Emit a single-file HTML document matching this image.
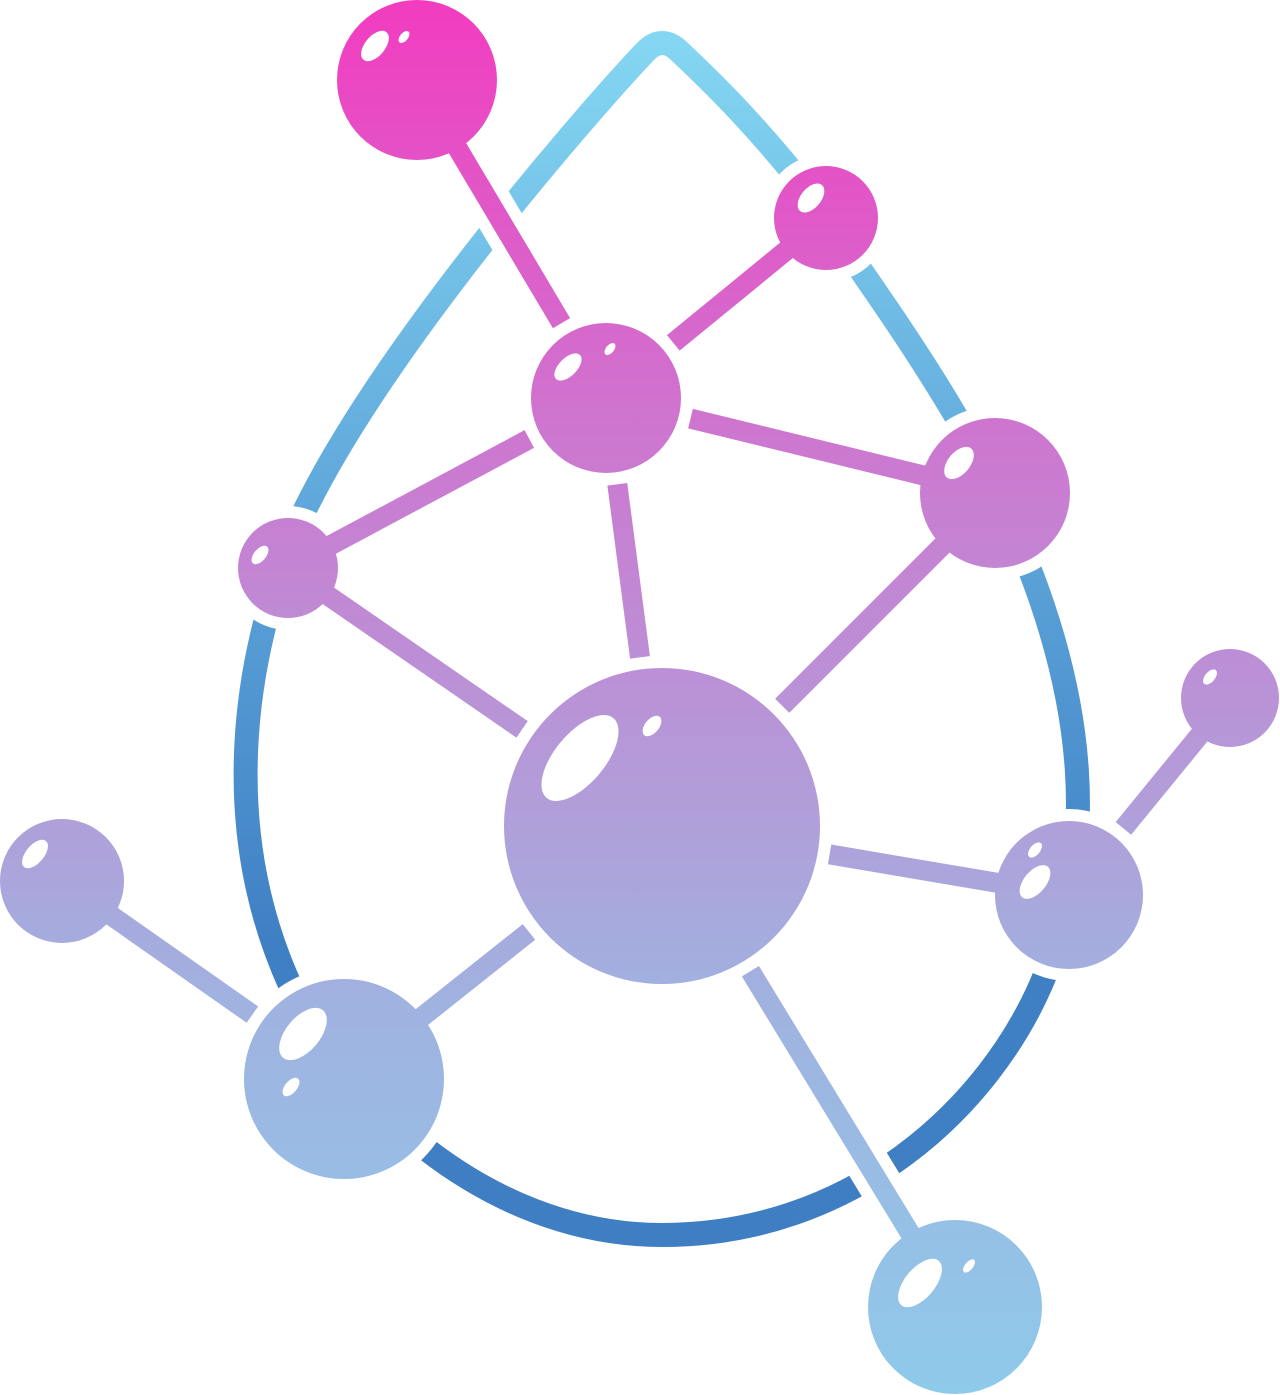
<!DOCTYPE html>
<html><head><style>html,body{margin:0;padding:0;background:#fff}svg{display:block}</style></head>
<body>
<svg width="1280" height="1395" viewBox="0 0 1280 1395" xmlns="http://www.w3.org/2000/svg">
<defs>
<linearGradient id="m" gradientUnits="userSpaceOnUse" x1="0" y1="0" x2="0" y2="1395">
<stop offset="0" stop-color="#f23cc0"/>
<stop offset="0.32" stop-color="#cc78d0"/>
<stop offset="0.55" stop-color="#b49ad8"/>
<stop offset="0.72" stop-color="#a0b2e0"/>
<stop offset="1" stop-color="#8ecaea"/>
</linearGradient>
<linearGradient id="d" gradientUnits="userSpaceOnUse" x1="0" y1="40" x2="0" y2="1240">
<stop offset="0" stop-color="#84d6f2"/>
<stop offset="0.4" stop-color="#5ea6da"/>
<stop offset="0.75" stop-color="#3f80c4"/>
<stop offset="1" stop-color="#3f7ec2"/>
</linearGradient>
<g id="bonds">
<line x1="417" y1="80" x2="561.5" y2="323.2"/>
<line x1="826" y1="218" x2="673.3" y2="342.9"/>
<line x1="690.5" y1="418.6" x2="995" y2="493"/>
<line x1="529.3" y1="439" x2="288" y2="568"/>
<line x1="617.3" y1="484.3" x2="640" y2="657.4"/>
<line x1="995" y1="493" x2="782.2" y2="705.8"/>
<line x1="288" y1="568" x2="522.1" y2="729.4"/>
<line x1="829.6" y1="854.4" x2="1069" y2="895"/>
<line x1="1123.4" y1="828.4" x2="1230" y2="698"/>
<line x1="62" y1="881" x2="252.4" y2="1014.6"/>
<line x1="344" y1="1079" x2="529" y2="931.9"/>
<line x1="750.4" y1="971.2" x2="955" y2="1307"/>
</g>
</defs>
<path d="M645,52 C590,110 380,350 300,520 C240,660 220,830 290,985 C340,1090 480,1235 662,1235 C850,1235 990,1110 1045,975 C1100,840 1080,700 1030,570 C980,430 880,300 795,175 C750,120 715,85 680,52 Q662,34 645,52 Z" fill="none" stroke="url(#d)" stroke-width="24" stroke-linejoin="round"/>
<use href="#bonds" stroke="#fff" stroke-width="44"/>
<g fill="#fff">
<circle cx="417" cy="80" r="92"/><circle cx="826" cy="218" r="64"/>
<circle cx="606" cy="398" r="87"/><circle cx="995" cy="493" r="87"/>
<circle cx="288" cy="568" r="62"/><circle cx="662" cy="826" r="170"/>
<circle cx="1230" cy="698" r="61"/><circle cx="62" cy="881" r="74"/>
<circle cx="1069" cy="895" r="86"/><circle cx="344" cy="1079" r="112"/>
<circle cx="955" cy="1307" r="99"/>
</g>
<use href="#bonds" stroke="url(#m)" stroke-width="20"/>
<g fill="url(#m)">
<circle cx="417" cy="80" r="80"/><circle cx="826" cy="218" r="52"/>
<circle cx="606" cy="398" r="75"/><circle cx="995" cy="493" r="75"/>
<circle cx="288" cy="568" r="50"/><circle cx="662" cy="826" r="158"/>
<circle cx="1230" cy="698" r="49"/><circle cx="62" cy="881" r="62"/>
<circle cx="1069" cy="895" r="74"/><circle cx="344" cy="1079" r="100"/>
<circle cx="955" cy="1307" r="87"/>
</g>
<g fill="#fff">
<ellipse cx="375" cy="46" rx="10" ry="18" transform="rotate(40 375 46)"/><ellipse cx="404" cy="37" rx="4" ry="7" transform="rotate(40 404 37)"/>
<ellipse cx="811" cy="198" rx="10" ry="17" transform="rotate(40 811 198)"/>
<ellipse cx="568" cy="367" rx="9" ry="17" transform="rotate(45 568 367)"/><ellipse cx="610" cy="349" rx="4" ry="7" transform="rotate(40 610 349)"/>
<ellipse cx="959" cy="463" rx="11" ry="19" transform="rotate(40 959 463)"/>
<ellipse cx="260" cy="555" rx="6" ry="11" transform="rotate(40 260 555)"/>
<ellipse cx="580" cy="758" rx="25" ry="52" transform="rotate(40 580 758)"/><ellipse cx="652" cy="726" rx="7" ry="12" transform="rotate(40 652 726)"/>
<ellipse cx="1210" cy="677" rx="5" ry="9" transform="rotate(40 1210 677)"/>
<ellipse cx="35" cy="854" rx="9" ry="17" transform="rotate(40 35 854)"/>
<ellipse cx="1035" cy="882" rx="11" ry="20" transform="rotate(40 1035 882)"/><ellipse cx="1035" cy="850" rx="5" ry="9" transform="rotate(40 1035 850)"/>
<ellipse cx="303" cy="1034" rx="17" ry="31" transform="rotate(40 303 1034)"/><ellipse cx="291" cy="1087" rx="6" ry="11" transform="rotate(40 291 1087)"/>
<ellipse cx="920" cy="1283" rx="15" ry="29" transform="rotate(40 920 1283)"/><ellipse cx="969" cy="1266" rx="4" ry="8" transform="rotate(40 969 1266)"/>
</g>
</svg>
</body></html>
